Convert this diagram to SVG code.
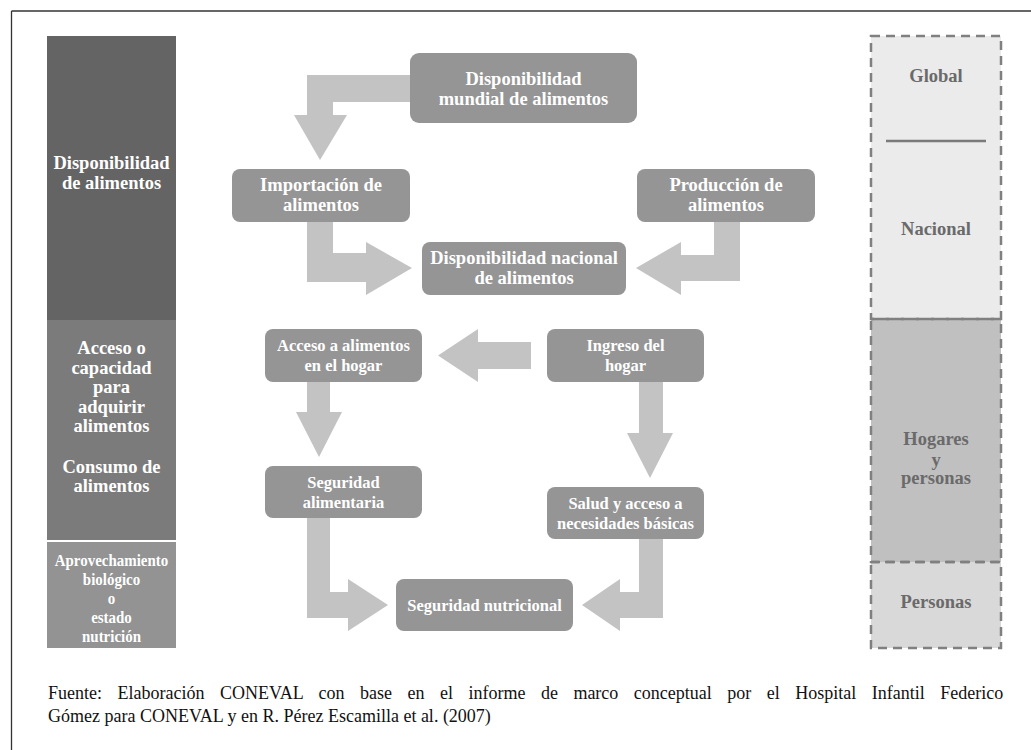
<svg xmlns="http://www.w3.org/2000/svg" width="1031" height="750" viewBox="0 0 1031 750">
<style>
.node{fill:#959595}
.arrow{fill:#c3c3c3}
.t1{font-family:"Liberation Serif","Times New Roman",serif;font-weight:bold;font-size:18.5px;fill:#ffffff;text-anchor:middle}
.t2{font-family:"Liberation Serif","Times New Roman",serif;font-weight:bold;font-size:16.5px;fill:#ffffff;text-anchor:middle}
.lv{font-family:"Liberation Serif","Times New Roman",serif;font-weight:bold;font-size:18.5px;fill:#6a6a6a;text-anchor:middle}
.dash{stroke:#808080;stroke-width:2.5;stroke-dasharray:9 6}
.foot{font-family:"Liberation Serif","Times New Roman",serif;font-size:18px;fill:#111111}
</style>
<rect width="1031" height="750" fill="#ffffff"/>
<g id="frame">
<line x1="11.5" y1="11" x2="1031" y2="11" stroke="#333333" stroke-width="1.3"/>
<line x1="11.5" y1="11" x2="11.5" y2="750" stroke="#333333" stroke-width="1.3"/>
</g>
<g id="left-column">
<rect x="47" y="36" width="129" height="284" fill="#646464"/>
<rect x="47" y="320" width="129" height="220" fill="#7b7b7b"/>
<rect x="47" y="542" width="129" height="106" fill="#939393"/>
<text class="t1"><tspan x="111.5" y="169">Disponibilidad</tspan><tspan x="111.5" y="189">de alimentos</tspan></text>
<text class="t1"><tspan x="111.5" y="354">Acceso o</tspan><tspan x="111.5" y="373.5">capacidad</tspan><tspan x="111.5" y="393">para</tspan><tspan x="111.5" y="412.5">adquirir</tspan><tspan x="111.5" y="432">alimentos</tspan><tspan x="111.5" y="473">Consumo de</tspan><tspan x="111.5" y="492">alimentos</tspan></text>
<g transform="translate(111.5,0) scale(0.88,1) translate(-111.5,0)">
<text class="t1" style="font-size:17px"><tspan x="111.5" y="566">Aprovechamiento</tspan><tspan x="111.5" y="585">biológico</tspan><tspan x="111.5" y="604">o</tspan><tspan x="111.5" y="623">estado</tspan><tspan x="111.5" y="642">nutrición</tspan></text>
</g>
</g>
<g id="connectors">
<polygon class="arrow" points="414,75 307,75 307,115 294,115 320,160 347,115 333,115 333,102 414,102"/>
<polygon class="arrow" points="307,220 333,220 333,253 366,253 366,242 412,268 366,295 366,282 307,282"/>
<polygon class="arrow" points="740,220 714,220 714,255 681,255 681,242 636,268 681,295 681,281 740,281"/>
<polygon class="arrow" points="531,342 478,342 478,329 438,355.5 478,382 478,369 531,369"/>
<polygon class="arrow" points="307,380 330,380 330,412 342,412 319,457 296,412 307,412"/>
<polygon class="arrow" points="639,380 663,380 663,433 673,433 650,478 627,433 639,433"/>
<polygon class="arrow" points="307,516 330,516 330,592 348,592 348,579 388,605 348,631 348,618 307,618"/>
<polygon class="arrow" points="663,537 639,537 639,592 620,592 620,579 582,605 620,631 620,618 663,618"/>
</g>
<g id="n-mundial">
<rect class="node" x="410" y="53" width="227" height="70" rx="9"/>
<text class="t1"><tspan x="523.5" y="85">Disponibilidad</tspan><tspan x="523.5" y="105">mundial de alimentos</tspan></text>
</g>
<g id="n-importacion">
<rect class="node" x="232" y="169" width="178" height="53" rx="8"/>
<text class="t1"><tspan x="321" y="191">Importación de</tspan><tspan x="321" y="211">alimentos</tspan></text>
</g>
<g id="n-produccion">
<rect class="node" x="637" y="169" width="178" height="53" rx="8"/>
<text class="t1"><tspan x="726" y="191">Producción de</tspan><tspan x="726" y="211">alimentos</tspan></text>
</g>
<g id="n-nacional">
<rect class="node" x="422" y="242" width="204" height="53" rx="8"/>
<text class="t1"><tspan x="524" y="264">Disponibilidad nacional</tspan><tspan x="524" y="284">de alimentos</tspan></text>
</g>
<g id="n-acceso">
<rect class="node" x="265" y="329" width="157" height="53" rx="8"/>
<text class="t2"><tspan x="343.5" y="351">Acceso a alimentos</tspan><tspan x="343.5" y="371">en el hogar</tspan></text>
</g>
<g id="n-ingreso">
<rect class="node" x="547" y="329" width="157" height="53" rx="8"/>
<text class="t2"><tspan x="625.5" y="351">Ingreso del</tspan><tspan x="625.5" y="371">hogar</tspan></text>
</g>
<g id="n-seguridad-alimentaria">
<rect class="node" x="265" y="466" width="157" height="52" rx="8"/>
<text class="t2"><tspan x="343.5" y="488">Seguridad</tspan><tspan x="343.5" y="508">alimentaria</tspan></text>
</g>
<g id="n-salud">
<rect class="node" x="547" y="487" width="157" height="52" rx="8"/>
<text class="t2"><tspan x="625.5" y="509">Salud y acceso a</tspan><tspan x="625.5" y="529">necesidades básicas</tspan></text>
</g>
<g id="n-nutricional">
<rect class="node" x="396" y="579" width="177" height="52" rx="8"/>
<text class="t2" x="484.5" y="611">Seguridad nutricional</text>
</g>
<g id="right-column">
<rect x="871" y="36" width="130" height="283" fill="#ebebeb"/>
<rect x="871" y="319" width="130" height="243" fill="#c0c0c0"/>
<rect x="871" y="562" width="130" height="86" fill="#d9d9d9"/>
<rect class="dash" x="871" y="36" width="130" height="283" fill="none"/>
<rect class="dash" x="871" y="319" width="130" height="243" fill="none"/>
<rect class="dash" x="871" y="562" width="130" height="86" fill="none"/>
<line x1="886" y1="141" x2="986" y2="141" stroke="#7a7a7a" stroke-width="2.5"/>
<text class="lv" x="936" y="82">Global</text>
<text class="lv" x="936" y="235">Nacional</text>
<text class="lv"><tspan x="936" y="445">Hogares</tspan><tspan x="936" y="466">y</tspan><tspan x="936" y="484">personas</tspan></text>
<text class="lv" x="936" y="608">Personas</text>
</g>
<g id="footer">
<text class="foot" x="48" y="699" word-spacing="11">Fuente: Elaboración CONEVAL con base en el informe de marco conceptual por el Hospital Infantil Federico</text>
<text class="foot" x="48" y="722">Gómez para CONEVAL y en R. Pérez Escamilla et al. (2007)</text>
</g>
</svg>
